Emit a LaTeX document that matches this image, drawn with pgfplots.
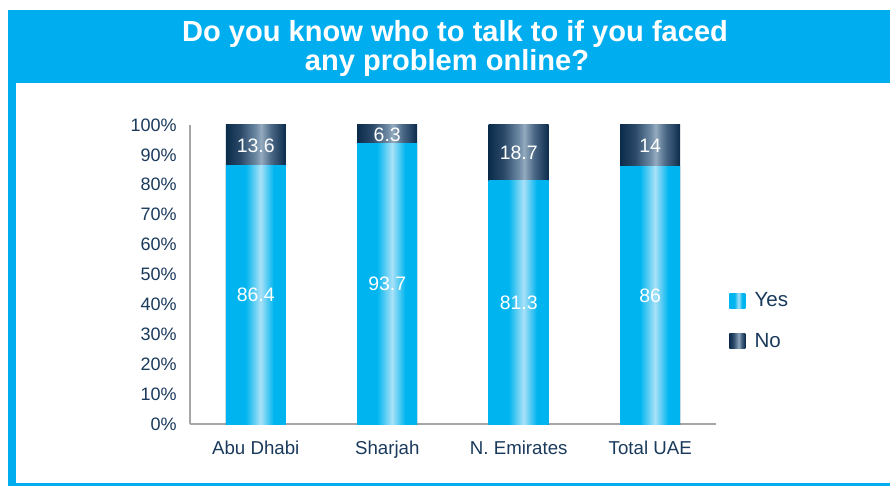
\documentclass[border=0pt]{standalone}
\usepackage{pgfplots}
\usepackage{pgfplotstable}
\pgfplotsset{compat=1.18}
\usepackage{fontspec}
\setmainfont{Liberation Sans}
\definecolor{frame}{HTML}{00AEEF}
\definecolor{cy}{HTML}{00B5EF}
\definecolor{cyl}{HTML}{A9E1F8}
\definecolor{dk}{HTML}{0B2B4B}
\definecolor{dk1}{HTML}{2B4A6A}
\definecolor{dk2}{HTML}{6D89A3}
\definecolor{dk3}{HTML}{94ABBF}
\definecolor{dk4}{HTML}{4C6987}
\definecolor{navy}{HTML}{1A3A5C}
\definecolor{axgray}{HTML}{A6A6A6}
\pgfdeclarehorizontalshading{yesshade}{100bp}{color(0bp)=(cy); color(25bp)=(cy); color(41.5bp)=(cy); color(54bp)=(cyl); color(65bp)=(cy); color(75bp)=(cy); color(100bp)=(cy)}
\pgfdeclarehorizontalshading{noshade}{100bp}{color(0bp)=(dk); color(25bp)=(dk); color(37.5bp)=(dk1); color(50bp)=(dk2); color(54.5bp)=(dk3); color(62.5bp)=(dk4); color(75bp)=(dk); color(100bp)=(dk)}
\pgfplotstableread{
x yes no
0 86.4 13.6
1 93.7 6.3
2 81.3 18.7
3 86 14
}\data
\pgfplotsset{
  yesbar/.style={forget plot, draw=none, shade, shading=yesshade, bar shift=0pt,
    restrict x to domain=#1,
    point meta=\thisrow{yes},
    visualization depends on={\thisrow{yes}\as\segh},
    nodes near coords},
  nobar/.style={forget plot, draw=none, shade, shading=noshade, bar shift=0pt,
    restrict x to domain=#1,
    point meta=\thisrow{no},
    visualization depends on={\thisrow{no}\as\segh},
    nodes near coords},
}
\begin{document}
\begin{tikzpicture}[x=0.75pt,y=0.75pt]
\useasboundingbox (0,0) rectangle (890,486);
\fill[white] (0,0) rectangle (890,486);
\fill[frame] (8,403) rectangle (890,476);
\fill[frame] (8,0) rectangle (15.5,403);
\fill[frame] (8,0) rectangle (890,3.3);
\node[anchor=base, text=white, font=\bfseries\fontsize{21.8}{25}\selectfont, inner sep=0pt] at (455,444.3) {Do you know who to talk to if you faced};
\node[anchor=base, text=white, font=\bfseries\fontsize{21.8}{25}\selectfont, inner sep=0pt] at (447,415.3) {any problem online?};
\begin{axis}[
  at={(142.5pt,46.5pt)}, anchor=south west,
  scale only axis, width=394.5pt, height=224.25pt,
  ybar, bar width=45pt,
  xmin=-0.5, xmax=3.5, ymin=0, ymax=100,
  axis lines*=left,
  axis line style={axgray, line width=1.1pt},
  major tick length=0pt,
  xtick={0,1,2,3},
  xticklabels={Abu Dhabi, Sharjah, N. Emirates, Total UAE},
  ytick={0,10,...,100},
  yticklabel={\pgfmathprintnumber{\tick}\%},
  /pgf/number format/assume math mode=true,
  /pgf/number format/fixed,
  y tick label style={inner sep=0pt, anchor=east, xshift=-9.75pt, font=\fontsize{13.5}{16}\selectfont, text=navy},
  x tick label style={inner sep=0pt, anchor=north, yshift=-12.75pt, font=\fontsize{14}{17}\selectfont, text=navy},
  every node near coord/.append style={anchor=center, shift={(axis direction cs:0,-\segh/2)}, text=white, font=\fontsize{14.6}{17}\selectfont},
  legend image code/.code={\path[#1] (0pt,-5.6pt) rectangle (12pt,5.6pt);},
  legend style={draw=none, fill=none, at={(1.0247,0.3445)}, anchor=west, inner sep=0pt, row sep=18pt, column sep=7pt, nodes={inner sep=0pt}, font=\fontsize{15.4}{18}\selectfont, text=navy},
  legend cell align=left,
]
% No segments (drawn from the base up to the stacked top, then covered by Yes)
\addplot[nobar={-0.2:0.2}] table[x=x, y expr=\thisrow{yes}+\thisrow{no}] {\data};
\addplot[nobar={0.8:1.2}] table[x=x, y expr=\thisrow{yes}+\thisrow{no}] {\data};
\addplot[nobar={1.8:2.2}] table[x=x, y expr=\thisrow{yes}+\thisrow{no}] {\data};
\addplot[nobar={2.8:3.2}] table[x=x, y expr=\thisrow{yes}+\thisrow{no}] {\data};
% Yes segments
\addplot[yesbar={-0.2:0.2}] table[x=x, y=yes] {\data};
\addplot[yesbar={0.8:1.2}] table[x=x, y=yes] {\data};
\addplot[yesbar={1.8:2.2}] table[x=x, y=yes] {\data};
\addplot[yesbar={2.8:3.2}] table[x=x, y=yes] {\data};
\addlegendimage{draw=none, shade, shading=yesshade}
\addlegendentry{Yes}
\addlegendimage{draw=none, shade, shading=noshade}
\addlegendentry{No}
\end{axis}
\end{tikzpicture}
\end{document}
